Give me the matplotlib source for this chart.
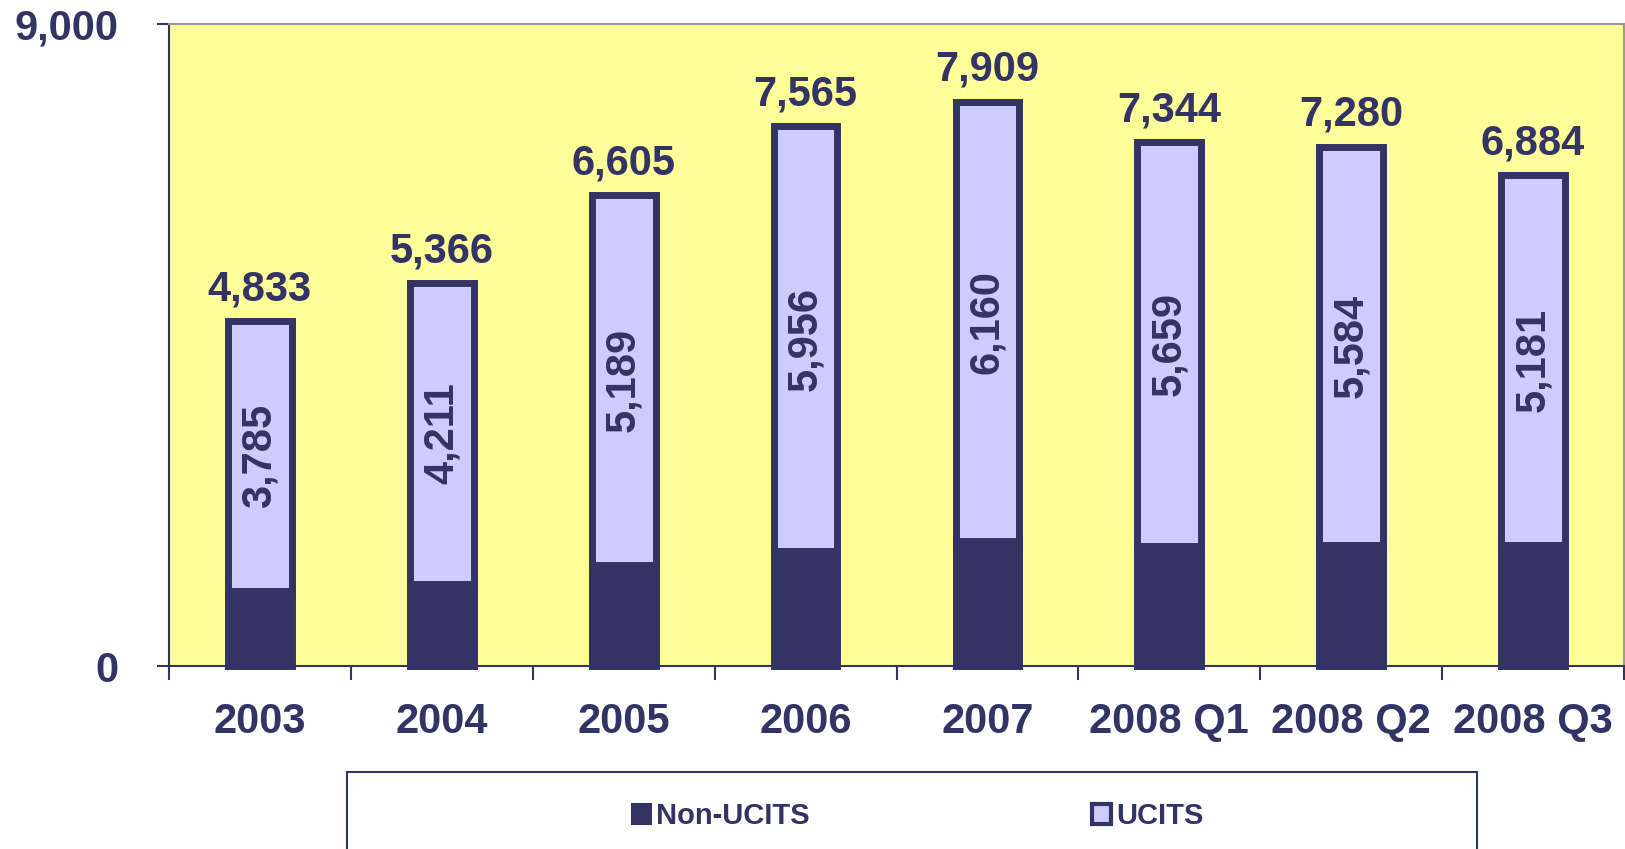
import matplotlib
matplotlib.use("Agg")
import matplotlib.pyplot as plt
from matplotlib.patches import Patch, Rectangle
from matplotlib.ticker import FixedLocator

categories = ["2003", "2004", "2005", "2006", "2007", "2008 Q1", "2008 Q2", "2008 Q3"]
totals = [4833, 5366, 6605, 7565, 7909, 7344, 7280, 6884]
ucits = [3785, 4211, 5189, 5956, 6160, 5659, 5584, 5181]
non_ucits = [t - u for t, u in zip(totals, ucits)]
ytick_vals = [0, 9000]
ytick_labels = ["0", "9,000"]

NAVY = "#333366"
LIGHT = "#CCCCFF"
YELLOW = "#FFFF99"

plt.rcParams["font.family"] = ["Liberation Sans", "DejaVu Sans"]
plt.rcParams["font.weight"] = "bold"

fig = plt.figure(figsize=(16.25, 8.49), dpi=100)
ax = fig.add_axes([169 / 1625, 1 - 666 / 849, (1624 - 169) / 1625, (666 - 24) / 849])
ax.set_facecolor(YELLOW)

x = list(range(len(categories)))
w = 0.35
ax.bar(x, non_ucits, width=w, color=NAVY, edgecolor=NAVY, linewidth=5,
       label="Non-UCITS", zorder=3, clip_on=False)
ax.bar(x, ucits, width=w, bottom=non_ucits, color=LIGHT, edgecolor=NAVY,
       linewidth=5, label="UCITS", zorder=3, clip_on=False)

for xi, t, nu, u in zip(x, totals, non_ucits, ucits):
    ax.annotate(f"{t:,}", (xi, t), xytext=(0, 15), textcoords="offset points",
                ha="center", va="baseline", fontsize=30, fontweight="bold",
                color=NAVY, zorder=5)
    ax.text(xi, nu + u / 2, f"{u:,}", rotation=90, ha="center", va="center",
            fontsize=30, fontweight="bold", color=NAVY, zorder=5)

ax.set_xlim(-0.5, len(categories) - 0.5)
ax.set_ylim(0, 9000)

ax.set_xticks(x)
ax.set_xticklabels(categories)
ax.xaxis.set_minor_locator(FixedLocator([i - 0.5 for i in range(len(categories) + 1)]))
ax.tick_params(axis="x", which="major", length=0, pad=26, labelsize=30,
               labelcolor=NAVY)
ax.tick_params(axis="x", which="minor", length=10, width=1.5, color=NAVY,
               direction="out")
ax.set_yticks(ytick_vals)
ax.set_yticklabels(ytick_labels)
ax.tick_params(axis="y", length=8.5, width=1.5, color=NAVY, direction="out",
               pad=28, labelsize=30, labelcolor=NAVY)
for lab in ax.get_xticklabels() + ax.get_yticklabels():
    lab.set_fontweight("bold")

ax.spines["left"].set_color(NAVY)
ax.spines["left"].set_linewidth(1.5)
ax.spines["bottom"].set_color(NAVY)
ax.spines["bottom"].set_linewidth(1.5)
ax.spines["top"].set_color("#999999")
ax.spines["top"].set_linewidth(1.5)
ax.spines["right"].set_color("#999999")
ax.spines["right"].set_linewidth(1.5)

# legend frame extending off the bottom of the figure
fig.patches.append(Rectangle((347 / 1625, -0.05), (1477 - 347) / 1625,
                             1 - 772 / 849 + 0.05, transform=fig.transFigure,
                             facecolor="white", edgecolor=NAVY, linewidth=1.5))
handles = [Patch(facecolor=NAVY, edgecolor=NAVY, linewidth=1.5),
           Patch(facecolor=LIGHT, edgecolor=NAVY, linewidth=3)]
leg = fig.legend(handles, ["Non-UCITS", "UCITS"], loc="center left",
                 bbox_to_anchor=(632 / 1625, 1 - 816 / 849), ncol=2,
                 frameon=False, borderpad=0, borderaxespad=0,
                 handlelength=0.66, handleheight=0.66, handletextpad=0.15,
                 columnspacing=9.7, prop={"size": 21, "weight": "bold"})
for t in leg.get_texts():
    t.set_color(NAVY)

fig.savefig("out.png", dpi=100)
